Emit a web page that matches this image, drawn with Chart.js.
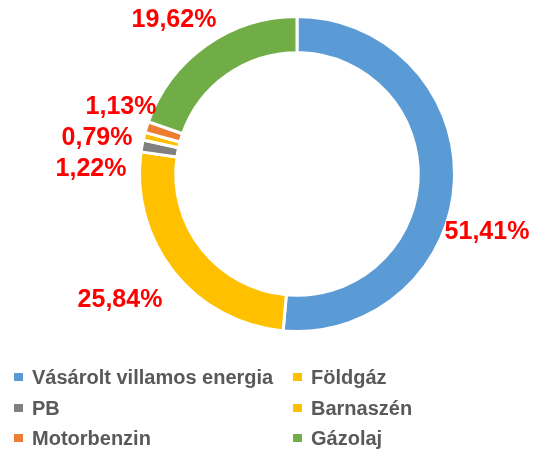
<!DOCTYPE html>
<html>
<head>
<meta charset="utf-8">
<script src="https://cdn.jsdelivr.net/npm/chart.js@4/dist/chart.umd.min.js"></script>
<style>
  html, body { margin: 0; padding: 0; background: #fff; }
  #wrap { width: 536px; height: 450px; }
</style>
</head>
<body>
<div id="wrap"><canvas id="chart" width="536" height="450"></canvas></div>
<script>
// data
const labels = ['Vásárolt villamos energia', 'Földgáz', 'PB', 'Barnaszén', 'Motorbenzin', 'Gázolaj'];
const values = [51.41, 25.84, 1.22, 0.79, 1.13, 19.62];
const colors = ['#5B9BD5', '#FFC000', '#808080', '#FFC000', '#ED7D31', '#70AD47'];

// label positions relative to donut centre (text layout only)
const labelOffsets = [[190, 58], [-177, 126], [-206, -5], [-200, -36], [-176, -67], [-123, -154]];
// legend grid: 2 columns, filled row by row
const legendCols = [14, 293];
const legendRows = [377, 408, 438];

const fmt = v => v.toFixed(2).replace('.', ',') + '%';

const valueLabels = {
  id: 'valueLabels',
  afterDatasetsDraw(chart) {
    const ctx = chart.ctx;
    const arc = chart.getDatasetMeta(0).data[0];
    ctx.save();
    ctx.font = 'bold 25px "Liberation Sans", Arial, sans-serif';
    ctx.fillStyle = '#FF0000';
    ctx.textAlign = 'center';
    ctx.textBaseline = 'middle';
    values.forEach((v, i) => {
      ctx.fillText(fmt(v), arc.x + labelOffsets[i][0], arc.y + labelOffsets[i][1]);
    });
    ctx.restore();
  }
};

const gridLegend = {
  id: 'gridLegend',
  afterDraw(chart) {
    const ctx = chart.ctx;
    ctx.save();
    ctx.font = 'bold 20px "Liberation Sans", Arial, sans-serif';
    ctx.textBaseline = 'middle';
    labels.forEach((l, i) => {
      const x = legendCols[i % 2];
      const y = legendRows[Math.floor(i / 2)];
      ctx.fillStyle = colors[i];
      ctx.fillRect(x, y - 4, 9, 8);
      ctx.fillStyle = '#595959';
      ctx.fillText(l, x + 18, y + 1);
    });
    ctx.restore();
  }
};

new Chart(document.getElementById('chart').getContext('2d'), {
  type: 'doughnut',
  data: {
    labels,
    datasets: [{
      data: values,
      backgroundColor: colors,
      borderColor: '#ffffff',
      borderWidth: 3
    }]
  },
  options: {
    responsive: false,
    animation: false,
    cutout: '77%',
    layout: { padding: { left: 138, right: 80, top: 15, bottom: 117 } },
    plugins: { legend: { display: false }, tooltip: { enabled: false } }
  },
  plugins: [valueLabels, gridLegend]
});
</script>
</body>
</html>
